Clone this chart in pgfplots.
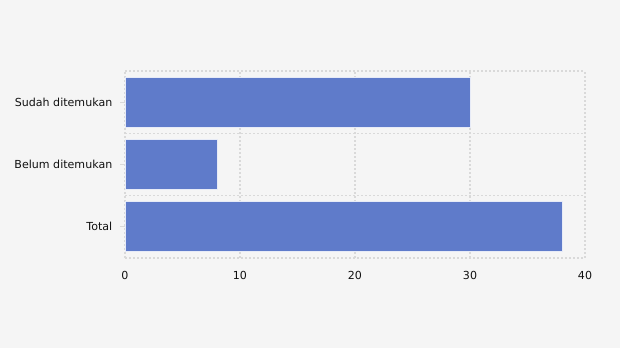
\documentclass[border=0pt]{standalone}
\usepackage{pgfplots}
\pgfplotsset{compat=1.18}
\usepackage{fontspec}
\setmainfont{DejaVu Sans}
\definecolor{bg}{HTML}{F5F5F5}
\definecolor{barc}{HTML}{5F7BCA}
\definecolor{gridc}{HTML}{D9D9D9}
\definecolor{txt}{HTML}{111111}
\begin{document}
\begin{tikzpicture}
\fill[bg] (0pt,0pt) rectangle (465pt,261pt);
\useasboundingbox (0pt,0pt) rectangle (465pt,261pt);
\begin{axis}[
  at={(93.75pt,67.5pt)}, anchor=south west,
  scale only axis, width=345pt, height=140.25pt,
  xmin=0, xmax=40, ymin=-0.5, ymax=2.5,
  xtick={0,10,20,30,40},
  ytick={0,1,2},
  yticklabels={Total,Belum ditemukan,Sudah ditemukan},
  minor ytick={-0.5,0.5,1.5,2.5},
  xmajorgrids, yminorgrids,
  grid style={gridc, dash pattern=on 1.5pt off 1.5pt, line width=0.8pt},
  minor grid style={gridc, dash pattern=on 1.5pt off 1.5pt, line width=0.8pt},
  axis line style={draw=none},
  major tick length=3.5pt,
  minor tick length=0pt,
  xtick style={draw=none},
  ytick style={gridc, line width=0.75pt},
  ytick pos=left,
  tick align=outside,
  ticklabel style={font=\fontsize{8.3pt}{9.5pt}\selectfont, text=txt},
  /pgf/number format/assume math mode=true,
  xticklabel style={yshift=-3pt},
  yticklabel style={xshift=-2.5pt},
  xbar, bar width=0.8,
]
\addplot[fill=barc, draw=white!85!barc, line width=0.6pt] coordinates {(38,0) (8,1) (30,2)};
\end{axis}
\end{tikzpicture}
\end{document}
